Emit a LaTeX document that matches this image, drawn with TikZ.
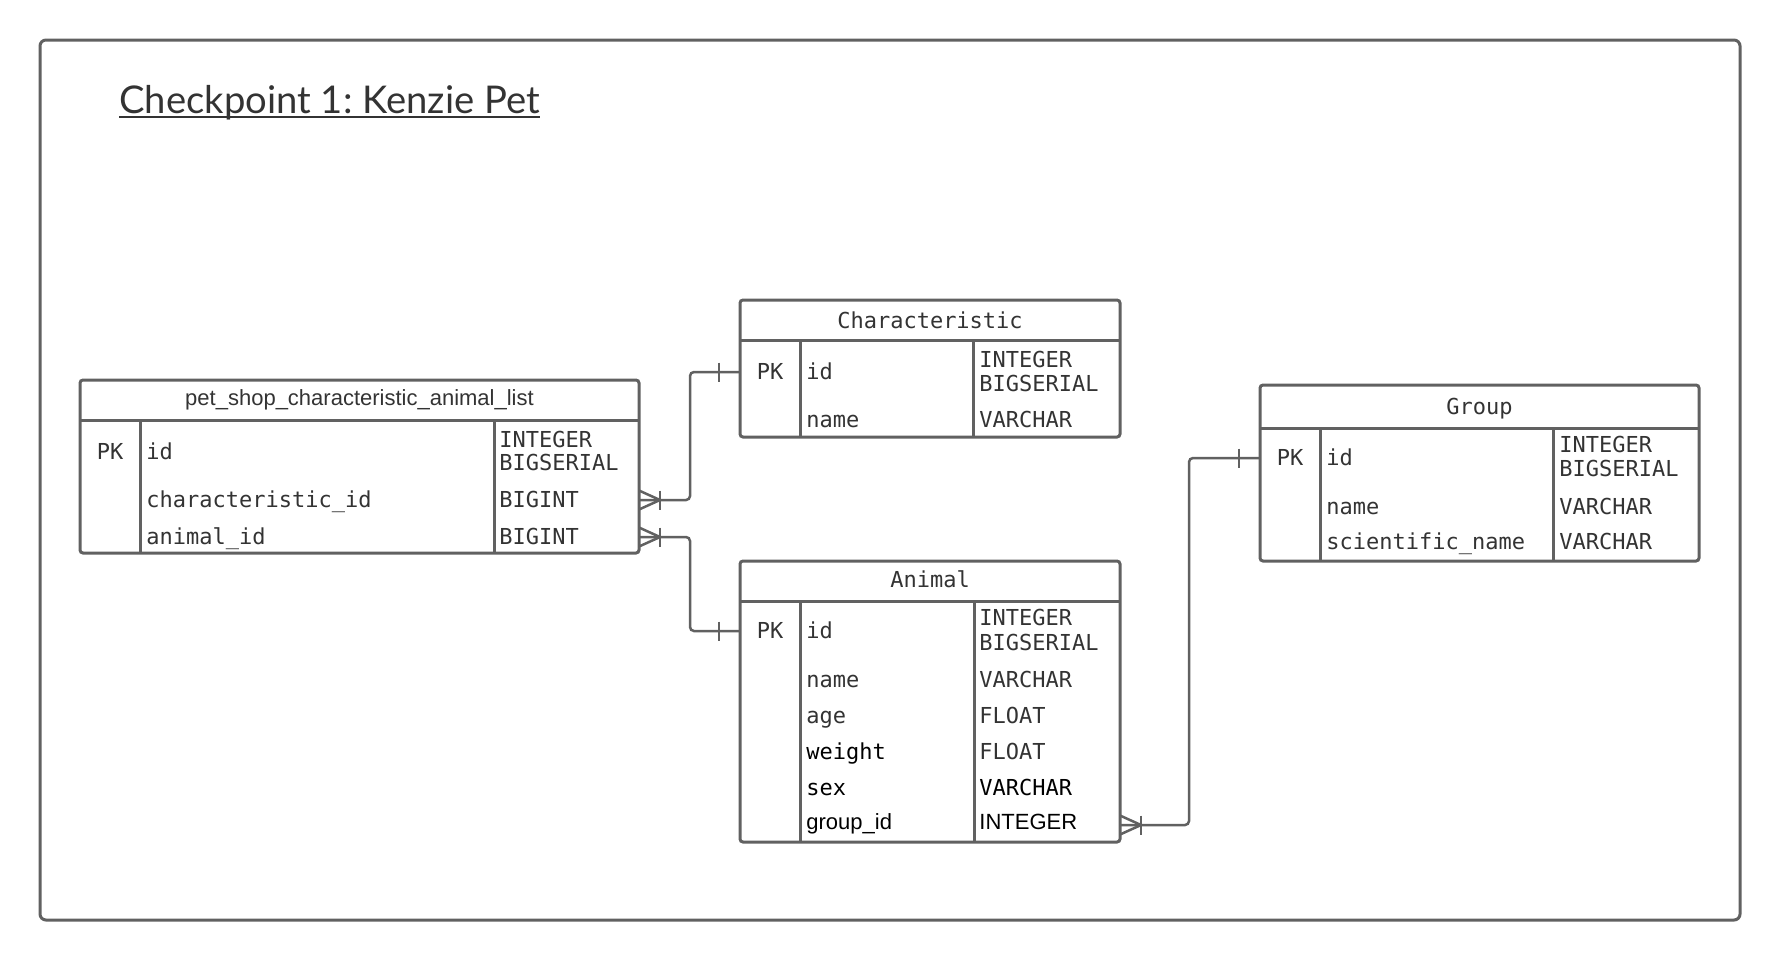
\documentclass[tikz,border=0pt]{standalone}
\usepackage{fontspec}
\setmainfont{Lato}
\newfontfamily\ermono{DejaVu Sans Mono}
\newfontfamily\ersans{Liberation Sans}

\tikzset{
  tbl/.style={draw=linegray, line width=1.5pt, rounded corners=1.5pt, outer sep=0pt, anchor=north west},
  tblline/.style={draw=linegray, line width=1.5pt},
  fld/.style={font=\ermono\fontsize{11}{12}\selectfont, text=txtgray, anchor=west, inner sep=0pt, text height=8pt, text depth=0pt, yshift=0.5pt},
  key/.style={fld, anchor=center},
  sansfld/.style={fld, font=\ersans\fontsize{11}{12}\selectfont},
  conn/.style={draw=linegray, line width=1.25pt},
  crowmany/.pic={
    \draw[conn] (0,-9.5) -- (21,0) -- (0,9.5);
    \draw[conn] (21,-9.5) -- (21,9.5);
  },
  crowone/.pic={
    \draw[conn] (-21,-9.5) -- (-21,9.5);
  }
}

\begin{document}
\begin{tikzpicture}[x=0.5pt,y=-0.5pt]

            % Define colors
            \definecolor{linegray}{RGB}{97,97,97}
            \definecolor{txtgray}{RGB}{51,51,51}

            \useasboundingbox (0,0) rectangle (1780,960);

            % Outer frame and title
            \draw[linegray, line width=1.5pt, rounded corners=3pt] (40,40) rectangle (1740,920);
            \node[font=\fontsize{19.1}{24}\selectfont\frenchspacing, text=txtgray, anchor=base west, inner sep=0pt] (title) at (119,113) {Checkpoint 1: Kenzie Pet};
            \draw[txtgray, line width=1pt] ([yshift=-2pt]title.base west) -- ([yshift=-2pt]title.base east);

            % Table pet_shop_characteristic_animal_list
            \node[tbl, minimum width=279.5pt, minimum height=86.5pt] (petlist) at (80,380) {};
            \draw[tblline] (80,420) -- (639,420);
            \draw[tblline] (140,420) -- (140,553);
            \draw[tblline] (494,420) -- (494,553);
            \node[sansfld, anchor=center] (phead) at (359.5,398) {pet\_shop\_characteristic\_animal\_list};
            \node[key] (ppk) at (110,452) {PK};
            \node[fld] (pid) at (146,452) {id};
            \node[fld] (pidtypea) at (499,440) {INTEGER};
            \node[fld] (pidtypeb) at (499,463) {BIGSERIAL};
            \node[fld] (pcharid) at (146,500) {characteristic\_id};
            \node[fld] (pchartype) at (499,500) {BIGINT};
            \node[fld] (panimid) at (146,537) {animal\_id};
            \node[fld] (panimtype) at (499,537) {BIGINT};

            % Table Characteristic
            \node[tbl, minimum width=190pt, minimum height=68.5pt] (charac) at (740,300) {};
            \draw[tblline] (740,340) -- (1120,340);
            \draw[tblline] (800,340) -- (800,437);
            \draw[tblline] (973,340) -- (973,437);
            \node[key] (chead) at (930,321) {Characteristic};
            \node[key] (cpk) at (770,372) {PK};
            \node[fld] (cid) at (806,372) {id};
            \node[fld] (cidtypea) at (979,360) {INTEGER};
            \node[fld] (cidtypeb) at (979,384) {BIGSERIAL};
            \node[fld] (cname) at (806,420) {name};
            \node[fld] (cnametype) at (979,420) {VARCHAR};

            % Table Animal
            \node[tbl, minimum width=190pt, minimum height=140.5pt] (animal) at (740,561) {};
            \draw[tblline] (740,601) -- (1120,601);
            \draw[tblline] (800,601) -- (800,842);
            \draw[tblline] (974,601) -- (974,842);
            \node[key] (ahead) at (930,580) {Animal};
            \node[key] (apk) at (770,631) {PK};
            \node[fld] (aid) at (806,631) {id};
            \node[fld] (aidtypea) at (979,618) {INTEGER};
            \node[fld] (aidtypeb) at (979,643) {BIGSERIAL};
            \node[fld] (aname) at (806,680) {name};
            \node[fld] (anametype) at (979,680) {VARCHAR};
            \node[fld] (aage) at (806,716) {age};
            \node[fld] (aagetype) at (979,716) {FLOAT};
            \node[fld, text=black] (aweight) at (806,752) {weight};
            \node[fld] (aweighttype) at (979,752) {FLOAT};
            \node[fld, text=black] (asex) at (806,788) {sex};
            \node[fld, text=black] (asextype) at (979,788) {VARCHAR};
            \node[sansfld, text=black] (agrpid) at (806,822) {group\_id};
            \node[sansfld, text=black] (agrptype) at (979,822) {INTEGER};

            % Table Group
            \node[tbl, minimum width=219.5pt, minimum height=88pt] (grp) at (1260,385) {};
            \draw[tblline] (1260,428) -- (1699,428);
            \draw[tblline] (1320,428) -- (1320,561);
            \draw[tblline] (1553,428) -- (1553,561);
            \node[key] (ghead) at (1479.5,407) {Group};
            \node[key] (gpk) at (1290,458) {PK};
            \node[fld] (gid) at (1326,458) {id};
            \node[fld] (gidtypea) at (1559,445) {INTEGER};
            \node[fld] (gidtypeb) at (1559,469) {BIGSERIAL};
            \node[fld] (gname) at (1326,507) {name};
            \node[fld] (gnametype) at (1559,507) {VARCHAR};
            \node[fld] (gsci) at (1326,542) {scientific\_name};
            \node[fld] (gscitype) at (1559,542) {VARCHAR};

            % Relations
            \draw[conn, rounded corners=2pt] ([yshift=-0.5pt]petlist.east |- pcharid) -- ++(51,0) |- ([yshift=-0.5pt]charac.west |- cpk);
            \draw[conn, rounded corners=2pt] ([yshift=-0.5pt]petlist.east |- panimid) -- ++(51,0) |- ([yshift=-0.5pt]animal.west |- apk);
            \draw[conn, rounded corners=2pt] ([yshift=-2pt]animal.east |- agrpid) -- ++(69,0) |- ([yshift=-0.5pt]grp.west |- gpk);

            % Crow's feet
            \pic at ([yshift=-0.5pt]petlist.east |- pcharid) {crowmany};
            \pic at ([yshift=-0.5pt]petlist.east |- panimid) {crowmany};
            \pic at ([yshift=-2pt]animal.east |- agrpid) {crowmany};
            \pic at ([yshift=-0.5pt]charac.west |- cpk) {crowone};
            \pic at ([yshift=-0.5pt]animal.west |- apk) {crowone};
            \pic at ([yshift=-0.5pt]grp.west |- gpk) {crowone};

\end{tikzpicture}
\end{document}
